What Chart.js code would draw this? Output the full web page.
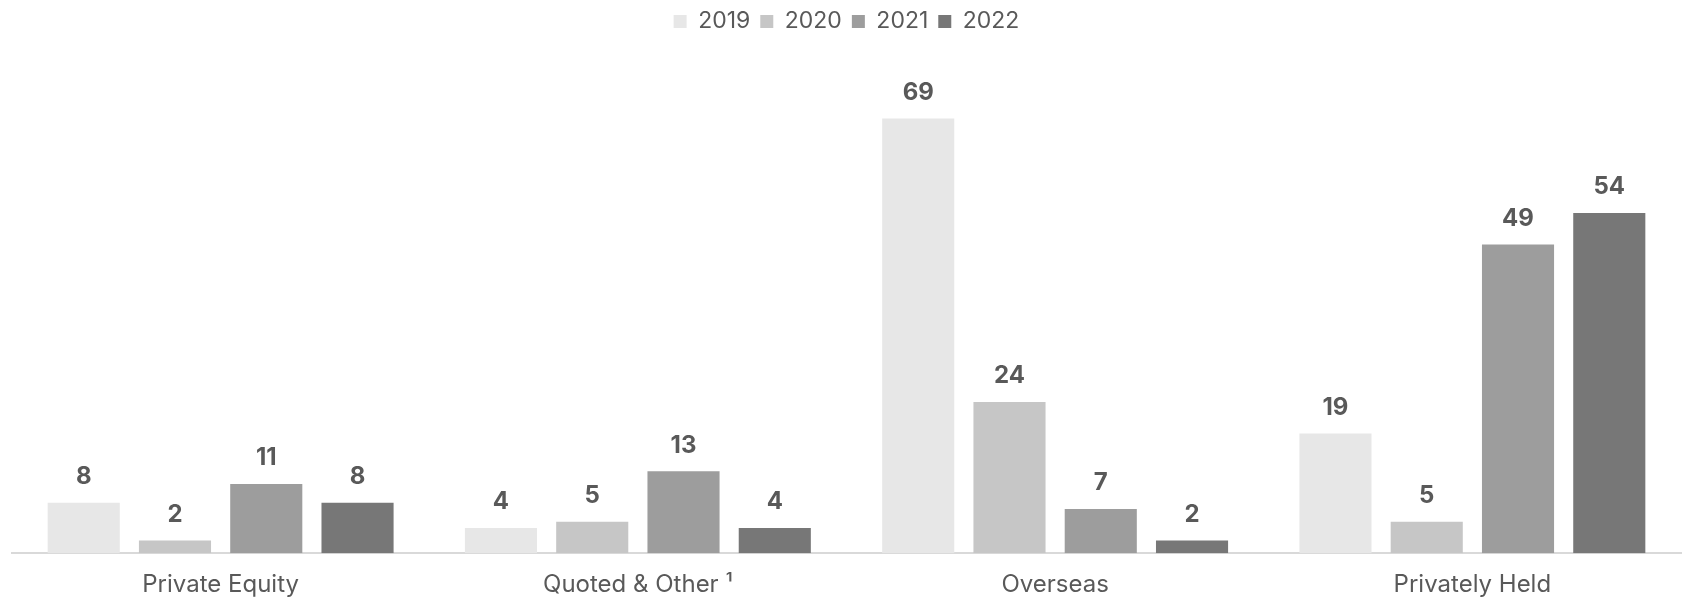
<!DOCTYPE html>
<html>
<head>
<meta charset="utf-8">
<script src="https://cdn.jsdelivr.net/npm/chart.js@4"></script>
<style>
    html, body { margin: 0; padding: 0; background: #ffffff; overflow: hidden; }
    #wrap { width: 1683px; height: 597px; overflow: hidden; }
</style>
</head>
<body>
<div id="wrap"><canvas id="barChart" width="1683" height="605"></canvas></div>
<script>
const categories = ['Private Equity', 'Quoted & Other \u00B9', 'Overseas', 'Privately Held'];
const years = ['2019', '2020', '2021', '2022'];
const values2019 = [8, 4, 69, 19];
const values2020 = [2, 5, 24, 5];
const values2021 = [11, 13, 7, 49];
const values2022 = [8, 4, 2, 54];
const barColors = ['#e7e7e7', '#c6c6c6', '#9d9d9d', '#777777'];

const fontFamily = "Inter, 'Open Sans', sans-serif";
const textColor = '#595959';

// Write the value above each bar
const valueLabels = {
    id: 'valueLabels',
    afterDatasetsDraw(chart) {
        const ctx = chart.ctx;
        ctx.save();
        ctx.font = `bold 24px ${fontFamily}`;
        ctx.fillStyle = textColor;
        ctx.textAlign = 'center';
        ctx.textBaseline = 'middle';
        chart.data.datasets.forEach((ds, i) => {
            const meta = chart.getDatasetMeta(i);
            meta.data.forEach((bar, j) => {
                ctx.fillText(String(ds.data[j]), bar.x, bar.y - 26);
            });
        });
        ctx.restore();
    }
};

const seriesValues = [values2019, values2020, values2021, values2022];

new Chart(document.getElementById('barChart').getContext('2d'), {
    type: 'bar',
    data: {
        labels: categories,
        datasets: years.map((y, i) => ({
            label: y,
            data: seriesValues[i],
            backgroundColor: barColors[i],
            borderWidth: 0,
            categoryPercentage: 0.875,
            barPercentage: 0.79
        }))
    },
    options: {
        responsive: false,
        animation: false,
        layout: { padding: { left: 12, right: 2, top: 0, bottom: -11 } },
        plugins: {
            legend: {
                position: 'top',
                labels: {
                    boxWidth: 13,
                    boxHeight: 13,
                    padding: 10,
                    color: textColor,
                    font: { family: fontFamily, size: 23 }
                }
            },
            tooltip: { enabled: false }
        },
        scales: {
            x: {
                grid: { display: false, drawTicks: false },
                border: { display: true, color: '#d9d9d9', width: 2 },
                ticks: {
                    padding: 17,
                    color: textColor,
                    font: { family: fontFamily, size: 24 }
                }
            },
            y: {
                display: false,
                min: 0,
                max: 81
            }
        }
    },
    plugins: [valueLabels]
});
</script>
</body>
</html>
